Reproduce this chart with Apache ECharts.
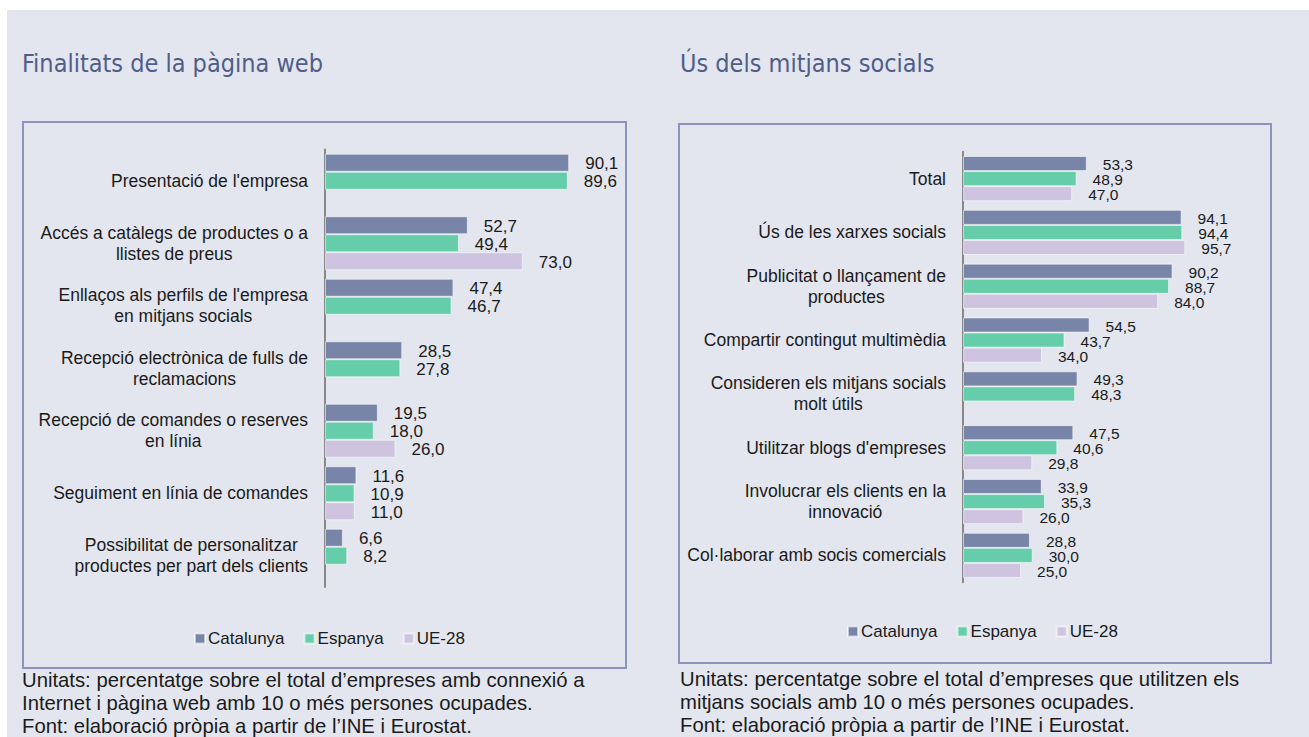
<!DOCTYPE html>
<html>
<head>
<meta charset="utf-8">
<script src="https://cdn.jsdelivr.net/npm/echarts@6/dist/echarts.min.js"></script>
<style>
  html, body { margin: 0; padding: 0; background: #fff; }
  #chart { width: 1309px; height: 737px; }
</style>
</head>
<body>
<div id="chart"></div>
<script>
// data
const seriesNames = ['Catalunya', 'Espanya', 'UE-28'];

const webCategories = [
  "Presentació de l'empresa",
  'Accés a catàlegs de productes o a\nllistes de preus',
  "Enllaços als perfils de l'empresa\nen mitjans socials",
  'Recepció electrònica de fulls de\nreclamacions',
  'Recepció de comandes o reserves\nen línia',
  'Seguiment en línia de comandes',
  'Possibilitat de personalitzar\nproductes per part dels clients'
];
const webCatalunya = [90.1, 52.7, 47.4, 28.5, 19.5, 11.6, 6.6];
const webEspanya = [89.6, 49.4, 46.7, 27.8, 18.0, 10.9, 8.2];
const webUE = [null, 73.0, null, null, 26.0, 11.0, null];

const socialCategories = [
  'Total',
  'Ús de les xarxes socials',
  'Publicitat o llançament de\nproductes',
  'Compartir contingut multimèdia',
  'Consideren els mitjans socials\nmolt útils',
  "Utilitzar blogs d'empreses",
  'Involucrar els clients en la\ninnovació',
  'Col·laborar amb socis comercials'
];
const socialCatalunya = [53.3, 94.1, 90.2, 54.5, 49.3, 47.5, 33.9, 28.8];
const socialEspanya = [48.9, 94.4, 88.7, 43.7, 48.3, 40.6, 35.3, 30.0];
const socialUE = [47.0, 95.7, 84.0, 34.0, null, 29.8, 26.0, 25.0];

const colors = ['#7985a8', '#66cdaa', '#cec4df'];
const font = "'Liberation Sans', Arial, sans-serif";
const titleFont = "'DejaVu Sans Condensed', 'Liberation Sans', sans-serif";
const textColor = '#1a1a1a';
const axisGray = '#888888';

const chart = echarts.init(document.getElementById('chart'), null, { renderer: 'svg' });

function catAxis(gridIndex, data) {
  return {
    type: 'category',
    gridIndex,
    data,
    inverse: true,
    axisLine: { lineStyle: { color: axisGray, width: 2 } },
    axisTick: { length: 6, lineStyle: { color: axisGray, width: 2 } },
    axisLabel: {
      margin: 17,
      formatter: v => '{c|' + v + '}',
      rich: {
        c: { align: 'center', fontSize: 17.5, lineHeight: 21, color: textColor, fontFamily: font }
      }
    }
  };
}

function valAxis(gridIndex) {
  return { type: 'value', gridIndex, min: 0, max: 100, show: false };
}

function barSerie(name, data, idx, color, gap, fs) {
  return {
    name,
    type: 'bar',
    xAxisIndex: idx,
    yAxisIndex: idx,
    data,
    barGap: '0%',
    barCategoryGap: gap,
    itemStyle: { color, borderColor: 'rgba(255,255,255,0.55)', borderWidth: 1 },
    label: {
      show: true,
      position: 'right',
      distance: 16,
      offset: [0, 1],
      fontSize: fs,
      lineHeight: fs - 2,
      fontFamily: font,
      color: textColor,
      formatter: p => p.value == null ? '' : p.value.toFixed(1).replace('.', ',')
    }
  };
}

function legendAt(left, top) {
  return {
    left, top,
    padding: 0,
    data: seriesNames,
    icon: 'rect',
    itemWidth: 10,
    itemHeight: 10,
    itemGap: 19,
    selectedMode: false,
    textStyle: { fontSize: 17, color: textColor, fontFamily: font, padding: [0, 0, 0, -2] }
  };
}

const option = {
  backgroundColor: '#e3e6ee',
  color: colors,
  animation: false,
  grid: [
    { left: 325, top: 149.5, width: 271, height: 437.5 },
    { left: 963, top: 151.7, width: 232.3, height: 430.6 }
  ],
  xAxis: [valAxis(0), valAxis(1)],
  yAxis: [catAxis(0, webCategories), catAxis(1, socialCategories)],
  legend: [legendAt(194, 630), legendAt(847, 623)],
  series: [
    barSerie(seriesNames[0], webCatalunya, 0, colors[0], '13.6%', 17),
    barSerie(seriesNames[1], webEspanya, 0, colors[1], '13.6%', 17),
    barSerie(seriesNames[2], webUE, 0, colors[2], '13.6%', 17),
    barSerie(seriesNames[0], socialCatalunya, 1, colors[0], '16%', 15.5),
    barSerie(seriesNames[1], socialEspanya, 1, colors[1], '16%', 15.5),
    barSerie(seriesNames[2], socialUE, 1, colors[2], '16%', 15.5)
  ],
  graphic: [
    // white margins of the page
    { type: 'rect', z: -10, shape: { x: 0, y: 0, width: 1309, height: 10 }, style: { fill: '#fff' } },
    { type: 'rect', z: -10, shape: { x: 0, y: 0, width: 7, height: 737 }, style: { fill: '#fff' } },
    // panel frames
    { type: 'rect', shape: { x: 23, y: 122, width: 603, height: 546 }, style: { fill: 'none', stroke: '#8c95b9', lineWidth: 2 } },
    { type: 'rect', shape: { x: 679, y: 124, width: 592, height: 539 }, style: { fill: 'none', stroke: '#8c95b9', lineWidth: 2 } },
    // titles
    { type: 'text', x: 22, y: 63, style: { text: 'Finalitats de la pàgina web', fill: '#4f5d88', font: '25px ' + titleFont, verticalAlign: 'middle' } },
    { type: 'text', x: 680, y: 63, style: { text: 'Ús dels mitjans socials', fill: '#4f5d88', font: '25px ' + titleFont, verticalAlign: 'middle' } },
    // notes
    { type: 'text', x: 22, y: 668, style: {
      text: 'Unitats: percentatge sobre el total d’empreses amb connexió a\nInternet i pàgina web amb 10 o més persones ocupades.\nFont: elaboració pròpia a partir de l’INE i Eurostat.',
      fill: textColor, font: '20.3px ' + font, lineHeight: 23, verticalAlign: 'top' } },
    { type: 'text', x: 680, y: 667, style: {
      text: 'Unitats: percentatge sobre el total d’empreses que utilitzen els\nmitjans socials amb 10 o més persones ocupades.\nFont: elaboració pròpia a partir de l’INE i Eurostat.',
      fill: textColor, font: '20.3px ' + font, lineHeight: 23, verticalAlign: 'top' } }
  ]
};

chart.setOption(option);
</script>
</body>
</html>
